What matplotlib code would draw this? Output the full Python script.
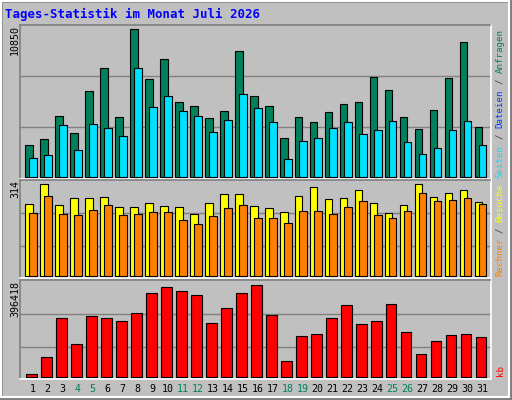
import matplotlib
matplotlib.use("Agg")
import matplotlib.pyplot as plt
import numpy as np
from matplotlib.patches import Rectangle

days = list(range(1, 32))
weekend = [4, 5, 11, 12, 18, 19, 25, 26]
hits = [2308, 2750, 4443, 3191, 6284, 7978, 4370, 10850, 7168, 8641, 5474, 5180, 4296, 4811, 9230, 5916,
        5180, 2823, 4370, 4001, 4738, 5327, 5474, 7315, 6358, 4370, 3486, 4885, 7241, 9893, 3633]
files = [1350, 1571, 3780, 1939, 3854, 3560, 2970, 7978, 5106, 5916, 4811, 4443, 3265, 4149, 6063, 5032,
         4001, 1277, 2602, 2823, 3560, 4001, 3118, 3412, 4075, 2529, 1645, 2087, 3412, 4075, 2308]
pages = [98, 908, 2823, 1571, 2897, 2750, 2676, 2897, 4149, 4517, 4296, 4001, 2750, 3412, 4075, 4590,
         3044, 761, 1939, 2160, 2897, 3486, 2529, 2676, 3486, 2087, 1056, 1645, 1939, 1866, 1792]
visits = [246, 314, 242, 266, 266, 270, 236, 236, 249, 239, 236, 212, 249, 280, 280, 239,
          232, 218, 273, 304, 263, 266, 294, 249, 215, 242, 314, 270, 283, 294, 253]
sites = [215, 273, 212, 208, 225, 242, 208, 212, 218, 218, 191, 177, 205, 232, 242, 198,
         198, 181, 222, 222, 212, 236, 256, 208, 198, 222, 283, 256, 259, 266, 246]
kbytes = [11574, 83909, 253183, 140330, 261864, 253183, 240161, 274883, 361691, 387735, 370373, 353012,
          231481, 296585, 361691, 396418, 266204, 66548, 175055, 183736, 253183, 309607, 227140, 240161,
          313947, 192417, 96931, 153356, 179396, 183736, 170715]

BG = "#C0C0C0"
W, H = 512, 400
fig = plt.figure(figsize=(5.12, 4.0), dpi=100, facecolor=BG)

def px_rect(x0, y0, x1, y1):
    return [x0 / W, 1 - y1 / H, (x1 - x0) / W, (y1 - y0) / H]

fig.patches.append(Rectangle((0, 0), 1, 1, transform=fig.transFigure, fill=False,
                             edgecolor="#808080", lw=4, zorder=0))
fig.patches.append(Rectangle((1 / W, 3 / H), 1 - 4 / W, 1 - 4 / H, transform=fig.transFigure,
                             fill=False, edgecolor="white", lw=1.5, zorder=0))

x = np.array(days, dtype=float)
xlim = (0.267, 31.65)
mono = "DejaVu Sans Mono"

def setup(ax, ymax, grids, px_h):
    ax.set_facecolor(BG)
    ax.set_xlim(*xlim)
    pad = ymax * 2.0 / px_h
    ax.set_ylim(-pad, ymax)
    for g in grids:
        ax.axhline(g, color="#808080", lw=1, zorder=0)
    ax.set_xticks([]); ax.set_yticks([])
    for s in ax.spines.values():
        s.set_color("white"); s.set_linewidth(1.2)
    ax.spines["left"].set_color("#808080"); ax.spines["top"].set_color("#808080")

ax1 = fig.add_axes(px_rect(20, 25, 490.5, 178.5))
top1 = 10850 * 151.7 / 147.3
setup(ax1, top1, [10850 * 148 / 442, 10850 * 301 / 442], 153)
ax1.bar(x - 0.5 + 0.355, hits, width=0.51, color="#00805C", edgecolor="black", lw=0.8, zorder=2)
ax1.bar(x - 0.5 + 0.39, pages, width=0.08, color="#0040FF", edgecolor="black", lw=0.6, zorder=3)
ax1.bar(x - 0.5 + 0.635, files, width=0.49, color="#00E0FF", edgecolor="black", lw=0.8, zorder=4)

ax2 = fig.add_axes(px_rect(20, 180, 490.5, 278))
setup(ax2, 314 * 96 / 92, [314 * 189 / 276, 314 * 90 / 276], 98)
ax2.bar(x - 0.5 + 0.355, visits, width=0.51, color="#FFFF00", edgecolor="black", lw=0.8, zorder=2)
ax2.bar(x - 0.5 + 0.635, sites, width=0.49, color="#FF8000", edgecolor="black", lw=0.8, zorder=3)

ax3 = fig.add_axes(px_rect(20, 280, 490.5, 378.5))
setup(ax3, 396418 * 96 / 91.3, [396418 * 187 / 274, 396418 * 88 / 274], 98)
ax3.bar(x - 0.5 + 0.525, kbytes, width=0.71, color="#FF0000", edgecolor="black", lw=0.8, zorder=2)

fs = 6.6
for d in days:
    col = "#00805C" if d in weekend else "black"
    xf = (20 + (d - xlim[0]) / (xlim[1] - xlim[0]) * 470.5 + 1.5) / W
    fig.text(xf, 1 - 389 / H, str(d), color=col, fontsize=7.2, family=mono, ha="center", va="center")

fig.text(5 / W, 1 - 14 / H, "Tages-Statistik im Monat Juli 2026", color="#0000FF", fontsize=8.9,
         family=mono, weight="bold", ha="left", va="center")

for lab, ytop in [("10850", 25), ("314", 180), ("396418", 281)]:
    fig.text(15 / W, 1 - ytop / H, lab, rotation=90, fontsize=7.2, family=mono, ha="center", va="top")

segs = [("Rechner", "#FF8000"), (" / ", "#404040"), ("Besuche", "#FFFF00"), (" ", "#404040"),
        ("Seiten", "#00E0FF"), (" / ", "#404040"), ("Dateien", "#0040FF"), (" / ", "#404040"),
        ("Anfragen", "#00805C")]
ypos = 276.5
cw = 5.5
for s, c in segs:
    if s.strip():
        lead = len(s) - len(s.lstrip())
        fig.text(500 / W, 1 - (ypos - lead * cw) / H, s.strip(), rotation=90, color=c, fontsize=fs,
                 family=mono, ha="center", va="bottom")
    ypos -= len(s) * cw
fig.text(500 / W, 1 - 376 / H, "kb", rotation=90, color="#FF0000", fontsize=fs, family=mono,
         ha="center", va="bottom")

fig.savefig("out.png", dpi=100, facecolor=BG)
